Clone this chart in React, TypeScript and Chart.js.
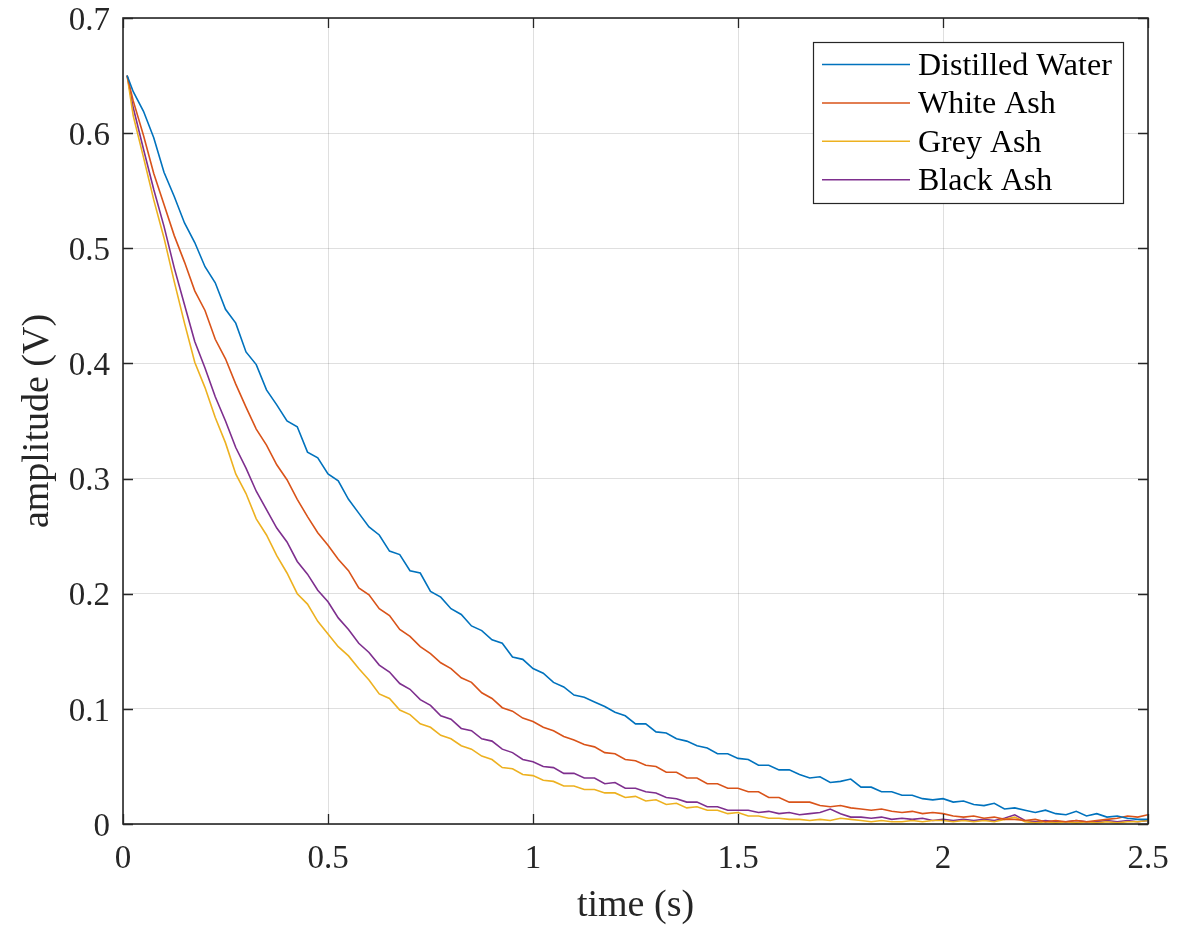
import React, { useEffect, useRef } from "react";
import { Chart, registerables } from "chart.js";

Chart.register(...registerables);

// sample times (s)
const TIME = [
  0.01,
  0.025, 0.05, 0.075, 0.1, 0.125, 0.15, 0.175, 0.2, 0.225, 0.25,
  0.275, 0.3, 0.325, 0.35, 0.375, 0.4, 0.425, 0.45, 0.475, 0.5,
  0.525, 0.55, 0.575, 0.6, 0.625, 0.65, 0.675, 0.7, 0.725, 0.75,
  0.775, 0.8, 0.825, 0.85, 0.875, 0.9, 0.925, 0.95, 0.975, 1.0,
  1.025, 1.05, 1.075, 1.1, 1.125, 1.15, 1.175, 1.2, 1.225, 1.25,
  1.275, 1.3, 1.325, 1.35, 1.375, 1.4, 1.425, 1.45, 1.475, 1.5,
  1.525, 1.55, 1.575, 1.6, 1.625, 1.65, 1.675, 1.7, 1.725, 1.75,
  1.775, 1.8, 1.825, 1.85, 1.875, 1.9, 1.925, 1.95, 1.975, 2.0,
  2.025, 2.05, 2.075, 2.1, 2.125, 2.15, 2.175, 2.2, 2.225, 2.25,
  2.275, 2.3, 2.325, 2.35, 2.375, 2.4, 2.425, 2.45, 2.475, 2.5,
];

const DISTILLED_WATER = [
  0.650,
  0.636, 0.619, 0.596, 0.566, 0.545, 0.522, 0.505, 0.484, 0.470, 0.447,
  0.435, 0.410, 0.399, 0.377, 0.364, 0.350, 0.345, 0.323, 0.318, 0.304,
  0.298, 0.282, 0.270, 0.258, 0.251, 0.237, 0.234, 0.220, 0.218, 0.202,
  0.197, 0.187, 0.182, 0.172, 0.168, 0.160, 0.157, 0.145, 0.143, 0.135,
  0.131, 0.123, 0.119, 0.112, 0.110, 0.106, 0.102, 0.097, 0.094, 0.087,
  0.087, 0.080, 0.079, 0.074, 0.072, 0.068, 0.066, 0.061, 0.061, 0.057,
  0.056, 0.051, 0.051, 0.047, 0.047, 0.043, 0.040, 0.041, 0.036, 0.037,
  0.039, 0.032, 0.032, 0.028, 0.028, 0.025, 0.025, 0.022, 0.021, 0.022,
  0.019, 0.020, 0.017, 0.016, 0.018, 0.013, 0.014, 0.012, 0.010, 0.012,
  0.009, 0.008, 0.011, 0.007, 0.009, 0.006, 0.007, 0.005, 0.004, 0.004,
];

const WHITE_ASH = [
  0.650,
  0.628, 0.598, 0.565, 0.538, 0.511, 0.488, 0.463, 0.446, 0.421, 0.404,
  0.382, 0.362, 0.343, 0.329, 0.312, 0.299, 0.282, 0.267, 0.253, 0.242,
  0.230, 0.220, 0.205, 0.199, 0.187, 0.181, 0.169, 0.163, 0.154, 0.148,
  0.140, 0.135, 0.127, 0.123, 0.114, 0.109, 0.101, 0.098, 0.092, 0.089,
  0.084, 0.081, 0.076, 0.073, 0.069, 0.067, 0.062, 0.061, 0.056, 0.055,
  0.051, 0.050, 0.045, 0.045, 0.040, 0.040, 0.035, 0.035, 0.031, 0.031,
  0.028, 0.028, 0.023, 0.023, 0.019, 0.019, 0.019, 0.016, 0.015, 0.016,
  0.014, 0.013, 0.012, 0.013, 0.011, 0.010, 0.011, 0.009, 0.010, 0.009,
  0.007, 0.006, 0.007, 0.005, 0.006, 0.004, 0.004, 0.003, 0.004, 0.002,
  0.003, 0.002, 0.003, 0.002, 0.003, 0.004, 0.005, 0.007, 0.006, 0.008,
];

const GREY_ASH = [
  0.650,
  0.615, 0.579, 0.542, 0.509, 0.471, 0.435, 0.401, 0.379, 0.353, 0.331,
  0.304, 0.287, 0.265, 0.251, 0.233, 0.218, 0.200, 0.191, 0.176, 0.165,
  0.154, 0.146, 0.135, 0.125, 0.113, 0.109, 0.099, 0.095, 0.087, 0.084,
  0.077, 0.074, 0.068, 0.065, 0.059, 0.056, 0.049, 0.048, 0.043, 0.042,
  0.038, 0.037, 0.033, 0.033, 0.030, 0.030, 0.027, 0.027, 0.023, 0.024,
  0.020, 0.021, 0.017, 0.018, 0.014, 0.015, 0.012, 0.012, 0.009, 0.010,
  0.007, 0.007, 0.005, 0.005, 0.004, 0.004, 0.003, 0.004, 0.003, 0.005,
  0.004, 0.003, 0.002, 0.003, 0.002, 0.002, 0.003, 0.002, 0.003, 0.003,
  0.002, 0.003, 0.002, 0.003, 0.002, 0.004, 0.006, 0.002, 0.001, 0.002,
  0.001, 0.002, 0.001, 0.002, 0.001, 0.002, 0.001, 0.002, 0.002, 0.003,
];

const BLACK_ASH = [
  0.650,
  0.622, 0.586, 0.551, 0.519, 0.483, 0.451, 0.419, 0.396, 0.371, 0.350,
  0.327, 0.309, 0.289, 0.273, 0.257, 0.245, 0.228, 0.217, 0.203, 0.193,
  0.179, 0.169, 0.157, 0.149, 0.138, 0.132, 0.122, 0.117, 0.108, 0.103,
  0.094, 0.091, 0.083, 0.081, 0.074, 0.072, 0.065, 0.062, 0.056, 0.054,
  0.050, 0.049, 0.044, 0.044, 0.040, 0.040, 0.035, 0.036, 0.031, 0.031,
  0.028, 0.027, 0.023, 0.022, 0.019, 0.019, 0.015, 0.015, 0.012, 0.012,
  0.012, 0.010, 0.011, 0.009, 0.010, 0.008, 0.009, 0.010, 0.013, 0.009,
  0.006, 0.006, 0.005, 0.006, 0.004, 0.005, 0.004, 0.005, 0.003, 0.004,
  0.003, 0.004, 0.003, 0.004, 0.003, 0.005, 0.008, 0.003, 0.002, 0.003,
  0.002, 0.002, 0.003, 0.002, 0.002, 0.003, 0.002, 0.003, 0.002, 0.003,
];

const SERIES_LABELS = ["Distilled Water", "White Ash", "Grey Ash", "Black Ash"];
const SERIES_VALUES = [DISTILLED_WATER, WHITE_ASH, GREY_ASH, BLACK_ASH];
const SERIES_COLORS = ["#0072BD", "#D95319", "#EDB120", "#7E2F8E"];

const X_LABEL = "time (s)";
const Y_LABEL = "amplitude (V)";

const SERIF = "'Liberation Serif', 'Times New Roman', serif";
const AXIS_COLOR = "#262626";

const framePlugin = {
  id: "matlabFrame",
  afterDatasetsDraw(chart: any) {
    const { ctx, chartArea: a, scales } = chart;
    const xs = scales.x;
    const ys = scales.y;
    ctx.save();
    ctx.strokeStyle = AXIS_COLOR;
    ctx.lineWidth = 1.3;
    const L = 10;
    ctx.beginPath();
    xs.ticks.forEach((t: any) => {
      const px = Math.round(xs.getPixelForValue(t.value)) + 0.5;
      ctx.moveTo(px, a.bottom);
      ctx.lineTo(px, a.bottom - L);
      ctx.moveTo(px, a.top);
      ctx.lineTo(px, a.top + L);
    });
    ys.ticks.forEach((t: any) => {
      const py = Math.round(ys.getPixelForValue(t.value)) + 0.5;
      ctx.moveTo(a.left, py);
      ctx.lineTo(a.left + L, py);
      ctx.moveTo(a.right, py);
      ctx.lineTo(a.right - L, py);
    });
    ctx.stroke();
    ctx.lineWidth = 1.6;
    ctx.strokeRect(a.left, a.top, a.right - a.left, a.bottom - a.top);

    // legend
    const bx = a.right - 335;
    const by = a.top + 24;
    const bw = 310;
    const bh = 161;
    ctx.fillStyle = "#ffffff";
    ctx.fillRect(bx, by, bw, bh);
    ctx.lineWidth = 1.2;
    ctx.strokeStyle = "#262626";
    ctx.strokeRect(bx + 0.5, by + 0.5, bw, bh);
    ctx.font = `32px ${SERIF}`;
    ctx.textBaseline = "middle";
    ctx.textAlign = "left";
    chart.data.datasets.forEach((ds: any, i: number) => {
      const ry = by + 22.5 + i * 38.4;
      ctx.strokeStyle = ds.borderColor;
      ctx.lineWidth = 1.5;
      ctx.beginPath();
      ctx.moveTo(bx + 9, ry);
      ctx.lineTo(bx + 97, ry);
      ctx.stroke();
      ctx.fillStyle = "#000000";
      ctx.fillText(ds.label, bx + 105, ry + 2);
    });
    ctx.restore();
  },
};

export default function App() {
  const canvasRef = useRef<HTMLCanvasElement | null>(null);

  useEffect(() => {
    const canvas = canvasRef.current;
    if (!canvas) return;
    const datasets = SERIES_LABELS.map((label, i) => ({
      label,
      data: TIME.map((t, j) => ({ x: t, y: SERIES_VALUES[i][j] })),
      borderColor: SERIES_COLORS[i],
      backgroundColor: SERIES_COLORS[i],
      borderWidth: 1.6,
      pointRadius: 0,
      tension: 0,
      fill: false,
    }));

    const chart = new Chart(canvas, {
      type: "line",
      data: { datasets },
      plugins: [framePlugin],
      options: {
        animation: false,
        responsive: false,
        devicePixelRatio: 1,
        layout: { padding: { left: 0, right: 41, top: 18, bottom: 0 } },
        plugins: {
          legend: { display: false },
          tooltip: { enabled: false },
        },
        scales: {
          x: {
            type: "linear",
            min: 0,
            max: 2.5,
            afterFit: (s: any) => {
              s.height = 101;
              s.paddingLeft = 0;
              s.paddingRight = 0;
            },
            ticks: {
              stepSize: 0.5,
              padding: 19,
              color: AXIS_COLOR,
              font: { family: SERIF, size: 33, lineHeight: 1 },
              maxRotation: 0,
              callback: (v: any) => String(Math.round(Number(v) * 10) / 10),
            },
            grid: { color: "rgba(38,38,38,0.15)", lineWidth: 1, drawTicks: false },
            border: { display: false },
            title: {
              display: true,
              text: X_LABEL,
              color: AXIS_COLOR,
              font: { family: SERIF, size: 38, lineHeight: 1 },
              padding: { top: 0, bottom: 0 },
            },
          },
          y: {
            type: "linear",
            min: 0,
            max: 0.7,
            afterFit: (s: any) => {
              s.width = 123;
              s.paddingTop = 0;
              s.paddingBottom = 0;
            },
            ticks: {
              stepSize: 0.1,
              padding: 13,
              labelOffset: 3,
              color: AXIS_COLOR,
              font: { family: SERIF, size: 33, lineHeight: 1 },
              callback: (v: any) => String(Math.round(Number(v) * 10) / 10),
            },
            grid: { color: "rgba(38,38,38,0.15)", lineWidth: 1, drawTicks: false },
            border: { display: false },
            title: {
              display: true,
              text: Y_LABEL,
              color: AXIS_COLOR,
              font: { family: SERIF, size: 38, lineHeight: 1 },
              padding: { top: 19, bottom: 0 },
            },
          },
        },
      },
    });
    return () => chart.destroy();
  }, []);

  return (
    <div
      style={{
        position: "absolute",
        left: 0,
        top: 0,
        width: 1189,
        height: 925,
        background: "#ffffff",
      }}
    >
      <canvas ref={canvasRef} width={1189} height={925} />
    </div>
  );
}
